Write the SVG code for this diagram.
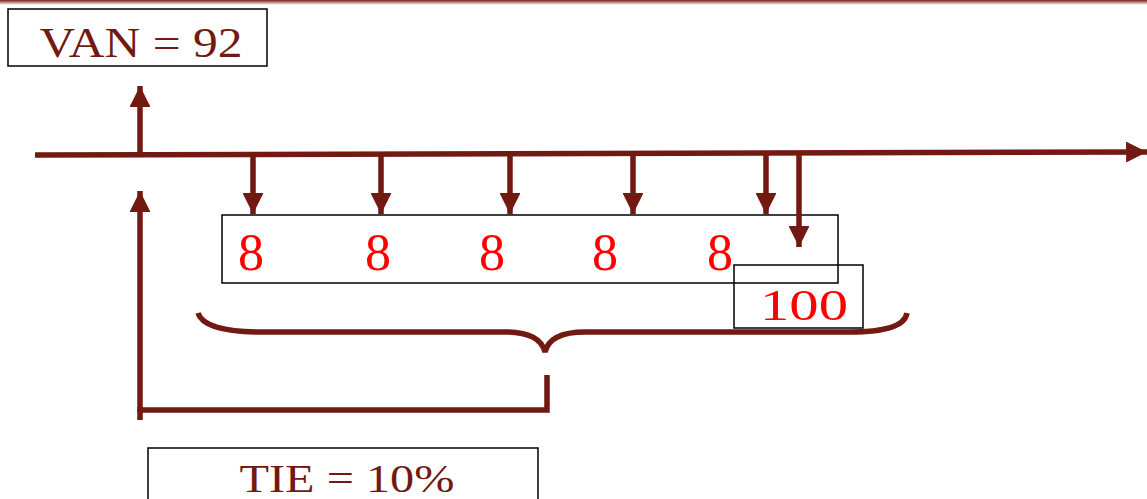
<svg xmlns="http://www.w3.org/2000/svg" width="1147" height="499" viewBox="0 0 1147 499">
<defs>
<linearGradient id="topbar" x1="0" y1="0" x2="0" y2="1">
<stop offset="0" stop-color="#7a2020"/>
<stop offset="1" stop-color="#ffffff"/>
</linearGradient>
<marker id="ah" viewBox="0 0 10 10" refX="10" refY="5" markerWidth="4" markerHeight="3.8" orient="auto" markerUnits="strokeWidth">
<path d="M0,0 L10,5 L0,10 Z" fill="#721911"/>
</marker>
<style>
.ln{stroke:#721911;stroke-width:5.5;fill:none}
.box{fill:none;stroke:#000;stroke-width:1.5}
.dk{font-family:"Liberation Serif",serif;fill:#721911;text-anchor:middle}
.rd{font-family:"Liberation Serif",serif;fill:#ff0000;text-anchor:middle}
</style>
</defs>
<rect width="1147" height="499" fill="#fff"/>
<rect x="0" y="0" width="1147" height="5" fill="url(#topbar)"/>
<g id="van">
<rect class="box" x="8" y="9" width="259" height="57"/>
<text class="dk" x="141" y="57" font-size="42" textLength="203" lengthAdjust="spacingAndGlyphs">VAN = 92</text>
</g>
<g id="tie">
<rect class="box" x="148" y="448" width="390" height="60"/>
<text class="dk" x="347" y="492" font-size="40" textLength="215" lengthAdjust="spacingAndGlyphs">TIE = 10%</text>
</g>
<g id="flows">
<rect class="box" x="222" y="215" width="616" height="68"/>
<text class="rd" x="251" y="270" font-size="52">8</text>
<text class="rd" x="378" y="270" font-size="52">8</text>
<text class="rd" x="492" y="270" font-size="52">8</text>
<text class="rd" x="605" y="270" font-size="52">8</text>
<text class="rd" x="720" y="270" font-size="52">8</text>
</g>
<g id="final">
<rect class="box" x="734" y="265" width="129" height="63"/>
<text class="rd" x="804" y="320" font-size="44" textLength="88" lengthAdjust="spacingAndGlyphs">100</text>
</g>
<g id="connectors">
<line class="ln" x1="35" y1="155" x2="1147" y2="152" marker-end="url(#ah)"/>
<line class="ln" x1="140" y1="155" x2="140" y2="86" marker-end="url(#ah)"/>
<line class="ln" x1="253" y1="155" x2="253" y2="214" marker-end="url(#ah)"/>
<line class="ln" x1="381" y1="155" x2="381" y2="214" marker-end="url(#ah)"/>
<line class="ln" x1="510" y1="154" x2="510" y2="214" marker-end="url(#ah)"/>
<line class="ln" x1="633" y1="154" x2="633" y2="214" marker-end="url(#ah)"/>
<line class="ln" x1="766" y1="154" x2="766" y2="214" marker-end="url(#ah)"/>
<line class="ln" x1="799" y1="154" x2="799" y2="247" marker-end="url(#ah)"/>
<path class="ln" d="M198,313 C202,326 225,332 260,332 L505,332 C530,332 542,340 545,352 C548,340 560,332 585,332 L850,332 C885,332 905,326 907,313"/>
<path class="ln" d="M547,375 L547,410 L140,410 L140,420"/>
<line class="ln" x1="140" y1="412" x2="140" y2="191" marker-end="url(#ah)"/>
</g>
</svg>
